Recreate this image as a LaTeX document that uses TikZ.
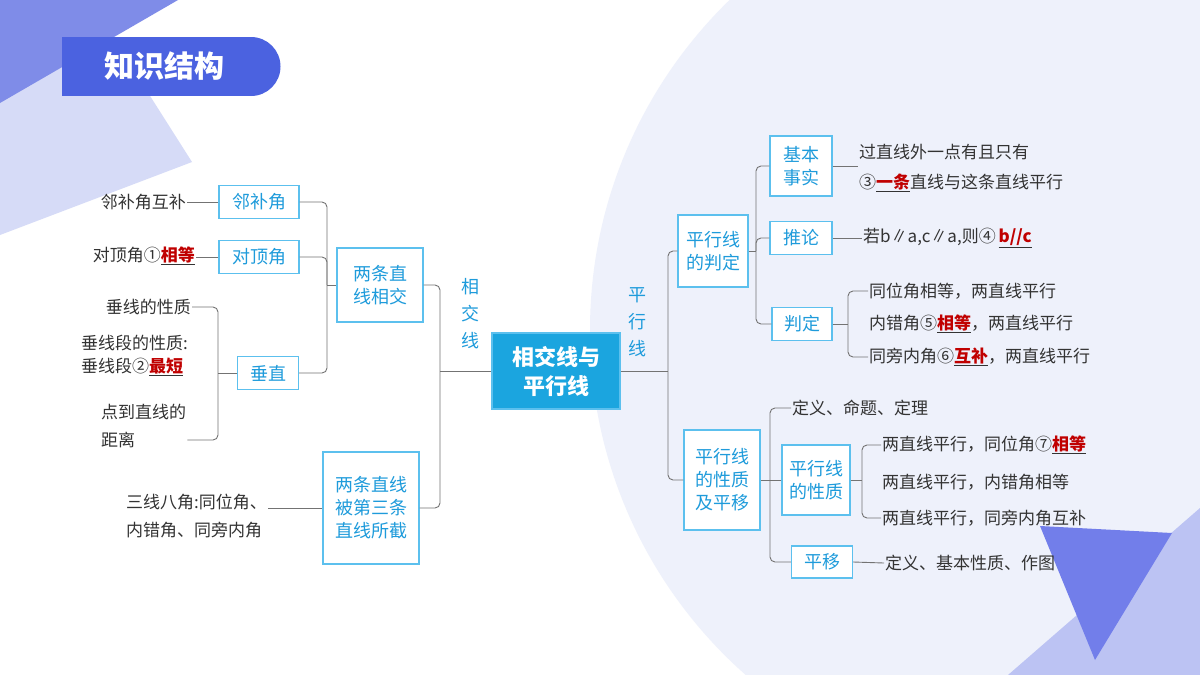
\documentclass[tikz,border=0pt]{standalone}
\usepackage{fontspec}
\setmainfont{Noto Sans CJK SC}
\usetikzlibrary{calc}
\definecolor{bluet}{HTML}{1E9BDB}
\definecolor{boxb}{HTML}{5CC0EE}
\definecolor{circ}{HTML}{EEF1FB}
\definecolor{tridark}{HTML}{7F8CE8}
\definecolor{trilight}{HTML}{D6DBF7}
\definecolor{banner}{HTML}{4B62E0}
\definecolor{redt}{HTML}{C00000}
\newcommand{\blank}[1]{\underline{\textcolor{redt}{\bfseries #1}}}
\begin{document}
\begin{tikzpicture}[x=1pt,y=-1pt,
  box/.style={draw=boxb,line width=1.4pt,fill=white,text=bluet,font=\fontsize{18}{23}\selectfont,inner sep=4pt,align=center},
  txt/.style={text=black!80,font=\fontsize{17}{24}\selectfont,inner sep=1pt,align=left},
  br/.style={draw=black!55,line width=0.9pt,rounded corners=5pt},
  vt/.style={text=bluet,font=\fontsize{18}{27}\selectfont,align=center}]
\useasboundingbox (0,0) rectangle (1200,675);
\fill[white] (0,0) rectangle (1200,675);
\fill[circ] (1050,330) circle (460);
\fill[trilight] (0,40) -- (112,36) -- (192,162) -- (0,235) -- cycle;
\fill[tridark] (0,0) -- (178,0) -- (0,103) -- cycle;
\fill[trilight!70!tridark] (1008,675) -- (1200,508) -- (1200,675) -- cycle;
\fill[tridark!90!blue] (1040,526) -- (1172,533) -- (1095,660) -- cycle;
\fill[banner] (62,37) rectangle (251,96);
\fill[banner] (251,66.5) circle (29.5);
\node[text=white,font=\fontsize{30}{34}\selectfont\bfseries] (title) at (164,66) {知识结构};

% center
\node[draw=boxb,fill=bluet!90!cyan,text=white,line width=1.5pt,font=\fontsize{22}{29}\selectfont\bfseries,align=center,minimum width=128,minimum height=76] (c) at (556,371) {相交线与\\平行线};
\node[vt] (xj) at (470,314) {相\\交\\线};
\node[vt] (px) at (637,322) {平\\行\\线};

% left side
\node[box,minimum width=86,minimum height=74] (lx) at (380,285) {两条直\\线相交};
\node[box,minimum width=96,minimum height=112] (sj) at (371,508) {两条直线\\被第三条\\直线所截};
\node[box,minimum width=80,minimum height=33] (lb) at (259,202) {邻补角};
\node[box,minimum width=80,minimum height=33] (dd) at (259,257) {对顶角};
\node[box,minimum width=61,minimum height=33] (cz) at (268,373) {垂直};
\node[txt,anchor=east] (t1) at (187,202) {邻补角互补};
\node[txt,anchor=east] (t2) at (196,256) {对顶角①\blank{相等}};
\node[txt,anchor=east] (t3) at (192,307) {垂线的性质};
\node[txt,anchor=west] (t4) at (80,343) {垂线段的性质:};
\node[txt,anchor=west] (t5) at (80,367) {垂线段②\blank{最短}};
\node[txt,anchor=west,font=\fontsize{17}{28}\selectfont] (t6) at (100,426) {点到直线的\\距离};
\node[txt,anchor=east,font=\fontsize{17}{28}\selectfont] (t7) at (268,516) {三线八角:同位角、\\内错角、同旁内角};

\coordinate (jl) at (440,0);
\draw[br] (c.west) -- (jl|-c.west);
\draw[br] (lx.east) -| (jl|-c.west) |- (sj.east);
\coordinate (jl2) at (327,0);
\draw[br] (lb.east) -| (jl2|-lx.west) |- (cz.east);
\draw[br] (dd.east) -| (jl2|-lx.west);
\draw[br] (jl2|-lx.west) -- (lx.west);
\draw[br] (t1.east) -- (lb.west);
\draw[br] (t2.east|-dd.west) -- (dd.west);
\draw[br] (t7.east|-sj.west) -- (sj.west);
\coordinate (jl3) at (218,0);
\draw[br] (t3.east) -| (jl3|-cz.west) |- ($(t6.east)+(0,14)$);
\draw[br] (jl3|-cz.west) -- (cz.west);

% right side
\node[box,minimum width=70,minimum height=72] (pd) at (713,251) {平行线\\的判定};
\node[box,minimum width=76,minimum height=100] (xz) at (722,480) {平行线\\的性质\\及平移};
\node[box,minimum width=62,minimum height=60] (js) at (801,166) {基本\\事实};
\node[box,minimum width=62,minimum height=33] (tl) at (801,238) {推论};
\node[box,minimum width=60,minimum height=33] (pdd) at (802,324) {判定};
\node[box,minimum width=68,minimum height=70] (xz2) at (816,480) {平行线\\的性质};
\node[box,minimum width=61,minimum height=32] (py) at (822,562) {平移};

\node[txt,anchor=west,font=\fontsize{17}{30}\selectfont] (r1) at (858,168) {过直线外一点有且只有\\③\blank{一条}直线与这条直线平行};
\node[txt,anchor=west] (r2) at (862,238) {若b∥a,c∥a,则④\,\blank{b//c}};
\node[txt,anchor=west] (r3) at (868,291) {同位角相等，两直线平行};
\node[txt,anchor=west] (r4) at (868,324) {内错角⑤\blank{相等}，两直线平行};
\node[txt,anchor=west] (r5) at (868,357) {同旁内角⑥\blank{互补}，两直线平行};
\node[txt,anchor=west] (r6) at (791,408) {定义、命题、定理};
\node[txt,anchor=west] (r7) at (881,445) {两直线平行，同位角⑦\blank{相等}};
\node[txt,anchor=west] (r8) at (881,482) {两直线平行，内错角相等};
\node[txt,anchor=west] (r9) at (881,518) {两直线平行，同旁内角互补};
\node[txt,anchor=west] (r10) at (884,563) {定义、基本性质、作图};

\coordinate (jr) at (668,0);
\draw[br] (c.east) -- (jr|-c.east);
\draw[br] (pd.west) -| (jr|-c.east) |- (xz.west);
\coordinate (jr2) at (756,0);
\draw[br] (js.west) -| (jr2|-pd.east) |- (pdd.west);
\draw[br] (tl.west) -| (jr2|-pd.east);
\draw[br] (pd.east) -- (jr2|-pd.east);
\draw[br] (js.east) -- (js.east-|r1.west);
\draw[br] (tl.east) -- (r2.west);
\coordinate (jr3) at (848,0);
\draw[br] (r3.west) -| (jr3|-pdd.east) |- (r5.west);
\draw[br] (pdd.east) -- (jr3|-pdd.east);
\coordinate (jr4) at (770,0);
\draw[br] (r6.west) -| (jr4|-xz.east) |- (py.west);
\draw[br] (xz2.west) -- (xz.east);
\coordinate (jr5) at (862,0);
\draw[br] (r7.west) -| (jr5|-xz2.east) |- (r9.west);
\draw[br] (xz2.east) -- (jr5|-xz2.east);
\draw[br] (py.east) -- (r10.west);
\end{tikzpicture}
\end{document}
